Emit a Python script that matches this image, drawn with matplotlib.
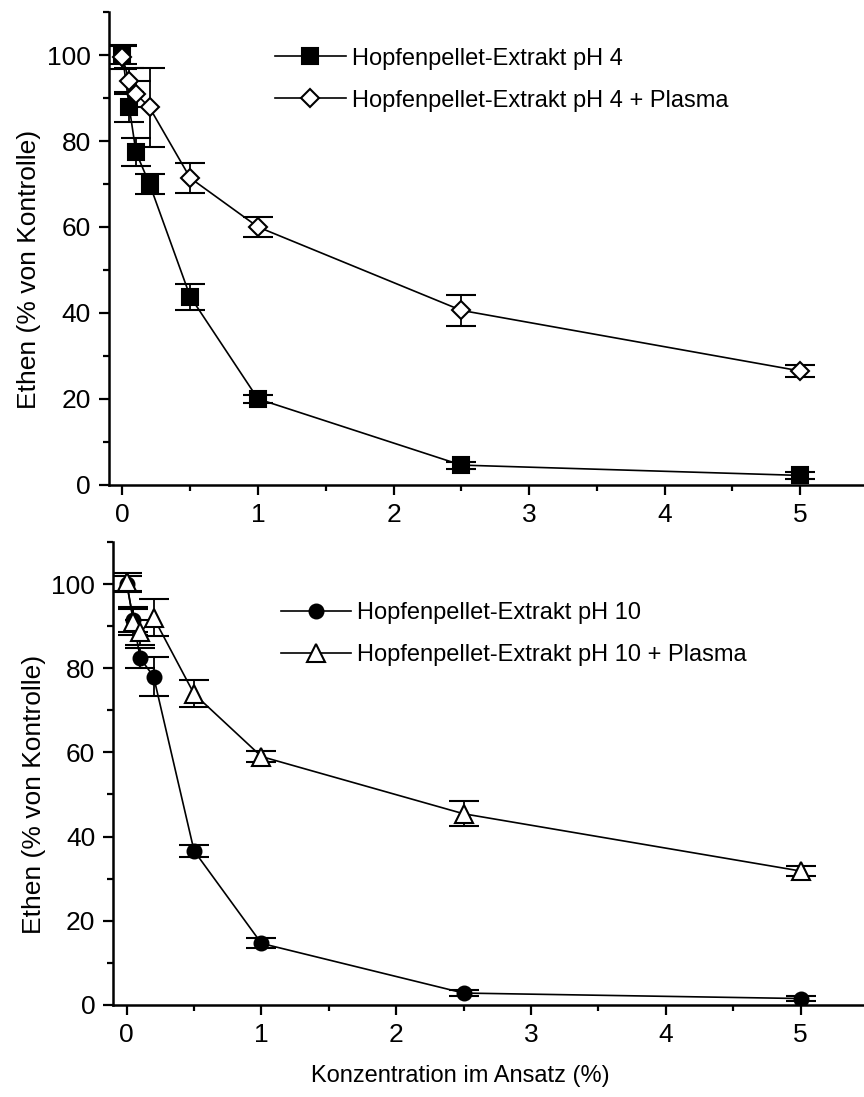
import matplotlib
matplotlib.use("Agg")
import matplotlib.pyplot as plt
from matplotlib.ticker import MultipleLocator

plt.rcParams['font.family'] = ['Liberation Sans', 'DejaVu Sans']

# concentrations (%)
conc = [0, 0.05, 0.1, 0.2, 0.5, 1, 2.5, 5]

# top panel: pH 4
ph4 = [100, 88, 77.4, 70, 43.8, 20, 4.6, 2.2]
ph4_err = [2, 3.5, 3.2, 2.3, 3, 1, 0.8, 0.8]
ph4_pl = [99.5, 94, 91, 87.8, 71.4, 60, 40.6, 26.5]
ph4_pl_err = [2.8, 3, 3, 9.2, 3.5, 2.3, 3.6, 1.5]

# bottom panel: pH 10
ph10 = [100, 91.5, 82.4, 78, 36.6, 14.6, 2.8, 1.5]
ph10_err = [1.8, 3, 2.3, 4.7, 1.5, 1.2, 0.7, 0.5]
ph10_pl = [100.5, 91, 88.5, 92, 73.9, 59, 45.4, 31.8]
ph10_pl_err = [2.2, 3, 3, 4.4, 3.2, 1.3, 3, 1.1]

labels_top = ['Hopfenpellet-Extrakt pH 4', 'Hopfenpellet-Extrakt pH 4 + Plasma']
labels_bot = ['Hopfenpellet-Extrakt pH 10', 'Hopfenpellet-Extrakt pH 10 + Plasma']

fig = plt.figure(figsize=(8.64, 10.97), dpi=100)
ax1 = fig.add_axes([0.126, 0.558, 0.874, 0.431])
ax2 = fig.add_axes([0.131, 0.084, 0.869, 0.422])

common = dict(color='black', lw=1.2, elinewidth=1.3, capsize=11, capthick=1.3,
              markeredgewidth=1.5, markeredgecolor='black')


def draw(ax, y1, e1, m1, y2, e2, m2, labels, ms1, ms2, legpos):
    h1 = ax.errorbar(conc, y1, yerr=e1, marker=m1, markersize=ms1,
                     markerfacecolor='black', zorder=3, **common)
    h2 = ax.errorbar(conc, y2, yerr=e2, marker=m2, markersize=ms2,
                     markerfacecolor='white', zorder=4, **common)
    ax.set_xlim(-0.1, 5.47)
    ax.set_ylim(0, 110)
    ax.xaxis.set_major_locator(MultipleLocator(1))
    ax.xaxis.set_minor_locator(MultipleLocator(0.5))
    ax.yaxis.set_major_locator(MultipleLocator(20))
    ax.yaxis.set_minor_locator(MultipleLocator(10))
    ax.tick_params(which='major', direction='out', length=7, width=1.6,
                   labelsize=19, pad=6)
    ax.tick_params(which='minor', direction='out', length=4, width=1.6)
    for s in ['top', 'right']:
        ax.spines[s].set_visible(False)
    for s in ['left', 'bottom']:
        ax.spines[s].set_linewidth(1.8)
    ax.set_ylabel('Ethen (% von Kontrolle)', fontsize=19)
    ax.yaxis.set_label_coords(-0.09, 0.455)
    ax.legend(handles=[h1[0], h2[0]], labels=labels, loc='upper left',
              bbox_to_anchor=legpos, frameon=False, fontsize=17,
              handlelength=3.0, handletextpad=0.25, labelspacing=0.85,
              borderpad=0, borderaxespad=0)


draw(ax1, ph4, ph4_err, 's', ph4_pl, ph4_pl_err, 'D', labels_top, 11, 9.5,
     (0.22, 0.925))
draw(ax2, ph10, ph10_err, 'o', ph10_pl, ph10_pl_err, '^', labels_bot, 10, 12.5,
     (0.223, 0.87))
ax2.set_xlabel('Konzentration im Ansatz (%)', fontsize=17)
ax2.xaxis.set_label_coords(0.462, -0.13)

fig.savefig('out.png', dpi=100)
